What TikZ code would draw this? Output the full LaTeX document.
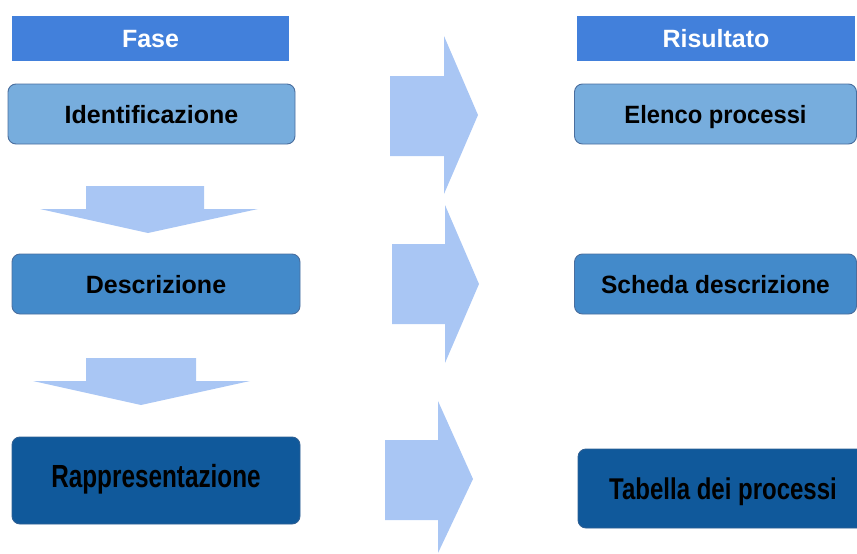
\documentclass[tikz,border=0pt]{standalone}
\usepackage{fontspec}
\setmainfont{Liberation Sans}
\definecolor{hdr}{HTML}{4280DB}
\definecolor{arr}{HTML}{A9C6F4}
\definecolor{boxA}{HTML}{77ADDD}
\definecolor{boxB}{HTML}{438ACA}
\definecolor{boxC}{HTML}{10599B}
\definecolor{edgeA}{HTML}{4A6E9E}
\definecolor{edgeC}{HTML}{2E5F93}
\tikzset{
  hdrbox/.style={fill=hdr, draw=none, inner sep=0pt, text=white, font=\bfseries\fontsize{25}{25}\selectfont, text height=18pt, text depth=0pt},
  phasebox/.style={rounded corners=8pt, inner sep=0pt, font=\bfseries\fontsize{25}{25}\selectfont, text height=18pt, text depth=0pt, line width=0.9pt},
  lightbox/.style={phasebox, fill=boxA, draw=edgeA},
  midbox/.style={phasebox, fill=boxB, draw=edgeA},
  darkbox/.style={phasebox, fill=boxC, draw=edgeC},
  blockarrow/.style={fill=arr, draw=none}
}
\begin{document}
\begin{tikzpicture}[x=1pt,y=-1pt]
\useasboundingbox (0,0) rectangle (857,554);
% headers
\node[hdrbox, minimum width=277pt, minimum height=45pt] (fase) at (150.5,38.5) {Fase};
\node[hdrbox, minimum width=278pt, minimum height=45pt] (ris) at (716,38.5) {Risultato};
% phase boxes
\node[lightbox, minimum width=287pt, minimum height=60pt] (ide) at (151.5,114) {Identificazione};
\node[midbox, minimum width=288pt, minimum height=60pt] (des) at (156,284) {Descrizione};
\node[darkbox, minimum width=288pt, minimum height=87pt, text height=23pt] (rap) at (156,480.5) {\fontsize{32}{32}\selectfont\raisebox{5pt}{\scalebox{0.76}[1]{Rappresentazione}}};
% result boxes
\node[lightbox, minimum width=282pt, minimum height=60pt] (ele) at (715.5,114) {\scalebox{0.95}[1]{Elenco processi}};
\node[midbox, minimum width=282pt, minimum height=60pt] (sch) at (715.5,284) {\scalebox{0.98}[1]{Scheda descrizione}};
\node[darkbox, minimum width=290pt, minimum height=79pt, text height=22pt] (tab) at (723,488.5) {\fontsize{30}{30}\selectfont\scalebox{0.8}[1]{Tabella dei processi}};
% down arrows
\fill[blockarrow] (86,186) -- (204,186) -- (204,209) -- (258,209) -- (148,233) -- (40,209) -- (86,209) -- cycle;
\fill[blockarrow] (86,358) -- (196,358) -- (196,381) -- (250,381) -- (141,405) -- (33,381) -- (86,381) -- cycle;
% right arrows
\fill[blockarrow] (390,76) -- (444,76) -- (444,36) -- (478,115) -- (444,194) -- (444,156) -- (390,156) -- cycle;
\fill[blockarrow] (392,244) -- (445,244) -- (445,205) -- (479,284) -- (445,363) -- (445,324) -- (392,324) -- cycle;
\fill[blockarrow] (385,440) -- (438,440) -- (438,401) -- (473,479) -- (438,553) -- (438,520) -- (385,520) -- cycle;
\end{tikzpicture}
\end{document}
